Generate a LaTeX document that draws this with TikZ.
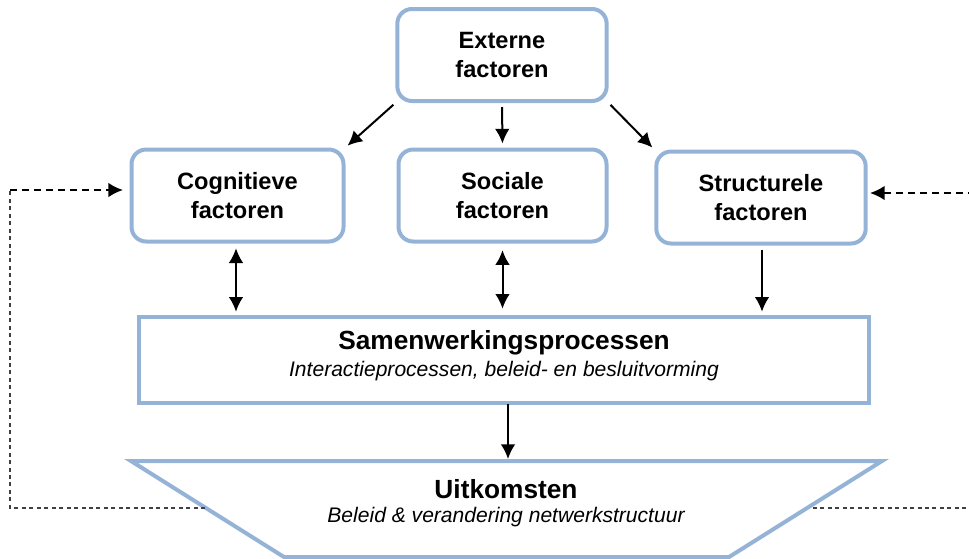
\documentclass[tikz,border=0pt]{standalone}
\usepackage{fontspec}
\setmainfont{Liberation Sans}
\usepackage{tikz}
\usetikzlibrary{arrows.meta,positioning,calc}

\definecolor{boxblue}{RGB}{149,179,215}

\begin{document}
\begin{tikzpicture}[
    x=0.75pt, y=-0.75pt,
    factor/.style={rectangle, draw=boxblue, line width=3pt, rounded corners=11pt, fill=white, text width=140pt, align=center, minimum width=157pt, minimum height=69pt, font=\fontsize{17.7}{22}\selectfont\bfseries},
    arrow/.style={-{Latex[length=11pt,width=11pt]}, line width=1.5pt, black},
    dblarrow/.style={{Latex[length=11pt,width=11pt]}-{Latex[length=11pt,width=11pt]}, line width=1.5pt, black},
    thinloop/.style={line width=1.1pt, black!75, dash pattern=on 3pt off 2.6pt},
    thickloop/.style={-{Latex[length=11pt,width=11pt]}, line width=1.5pt, black, dash pattern=on 5pt off 4pt},
    title/.style={font=\fontsize{19.7}{23}\selectfont\bfseries},
    subtitle/.style={font=\fontsize{15.8}{19}\selectfont\itshape}
]
\useasboundingbox (0,0) rectangle (969,558);

% Factor boxes
\node[factor] (ext) at (502,55) {Externe\\factoren};
\node[factor, minimum width=159pt] (cog) at (237.5,195.5) {Cognitieve\\factoren};
\node[factor, minimum width=156pt] (soc) at (502.5,195.5) {Sociale\\factoren};
\node[factor] (str) at (761,197.5) {Structurele\\factoren};

% Collaboration processes
\node[rectangle, draw=boxblue, line width=3pt, minimum width=548pt, minimum height=64pt] (samen) at (504,360) {};
\node[title] (samentitle) at (504,343) {Samenwerkingsprocessen};
\node[subtitle] (samensub) at (504,371) {Interactieprocessen, beleid- en besluitvorming};

% Outcomes
\draw[boxblue, line width=3pt, line join=miter] (131,461) -- (882,461) -- (729,557) -- (284,557) -- cycle;
\node[title] (uittitle) at (506,489) {Uitkomsten};
\node[subtitle] (uitsub) at (506,517) {Beleid \& verandering netwerkstructuur};
\coordinate (uittop) at (508,459);
\coordinate (uitleft) at (205,508);
\coordinate (uitright) at (813,508);

% Arrow ends
\coordinate (cogout) at (236,243);
\coordinate (cogin) at (236,317);
\coordinate (strout) at (762,245);
\coordinate (strin) at (762,317);
\coordinate (samenout) at (508,403);

% Arrows
\draw[arrow, shorten <=2pt, shorten >=2pt] (ext.south west) -- (cog.north east);
\draw[arrow, shorten <=3pt, shorten >=3pt] (ext.south) -- (soc.north);
\draw[arrow, shorten <=2pt, shorten >=2pt] (ext.south east) -- (str.north west);
\draw[dblarrow, shorten <=4pt, shorten >=4pt] (cogout) -- (cogin);
\draw[dblarrow, shorten <=5pt, shorten >=5pt] (soc.south) -- (soc.south |- samen.north);
\draw[arrow, shorten <=4pt, shorten >=4pt] (strout) -- (strin);
\draw[arrow, shorten <=1pt] (samenout) -- (uittop);

% Feedback loops
\coordinate (lcorner) at (10,190);
\coordinate (rcorner) at (975,193);
\draw[thinloop] (uitleft) -| (lcorner);
\draw[thickloop] (lcorner) -- (123,190);
\draw[thinloop] (uitright) -| (rcorner);
\draw[thickloop] (rcorner) -- (870,193);

\end{tikzpicture}
\end{document}
